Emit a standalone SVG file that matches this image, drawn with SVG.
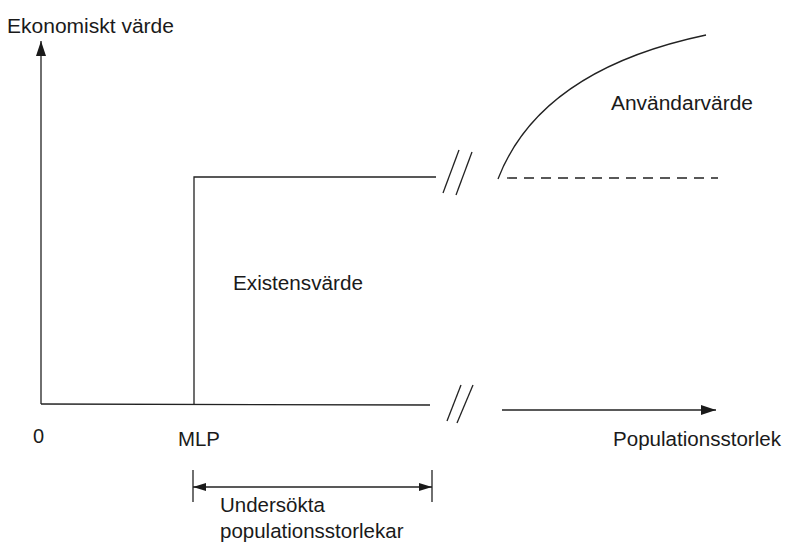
<svg xmlns="http://www.w3.org/2000/svg" width="790" height="545" viewBox="0 0 790 545">
<style>
.ln{fill:none;stroke:#222;stroke-width:1.3}
.t{font-family:"Liberation Sans",Arial,sans-serif;font-size:20px;fill:#1a1a1a}
.s{font-size:20.5px}
</style>
<defs>
<marker id="ah" markerWidth="16" markerHeight="12" refX="15" refY="6" orient="auto" markerUnits="userSpaceOnUse">
<path d="M0,1 L15,6 L0,11 Z" fill="#1a1a1a"/>
</marker>
<marker id="ahs" markerWidth="14" markerHeight="10" refX="13" refY="5" orient="auto-start-reverse" markerUnits="userSpaceOnUse">
<path d="M0,1 L13,5 L0,9 Z" fill="#1a1a1a"/>
</marker>
</defs>
<rect width="790" height="545" fill="#fff"/>
<g id="connectors">
<line class="ln" x1="41" y1="404" x2="41" y2="41" marker-end="url(#ah)"/>
<line class="ln" x1="41" y1="404" x2="430" y2="405"/>
<line class="ln" x1="502" y1="410" x2="716" y2="410" marker-end="url(#ah)"/>
<polyline class="ln" points="194,404 194,177 436,177"/>
<line class="ln" x1="443" y1="193" x2="459" y2="150"/>
<line class="ln" x1="456" y1="195" x2="472" y2="152"/>
<line class="ln" x1="447" y1="421" x2="461" y2="385"/>
<line class="ln" x1="457" y1="423" x2="473" y2="385"/>
<path class="ln" d="M498,179 Q540,70 706,35"/>
<line class="ln" x1="507" y1="178" x2="718" y2="178" stroke-dasharray="10,7"/>
<line class="ln" x1="193" y1="470" x2="193" y2="502"/>
<line class="ln" x1="432" y1="470" x2="432" y2="502"/>
<line class="ln" x1="193" y1="487" x2="432" y2="487" marker-start="url(#ahs)" marker-end="url(#ahs)"/>
</g>
<g id="labels">
<text class="t" x="7" y="33" textLength="167" lengthAdjust="spacingAndGlyphs">Ekonomiskt värde</text>
<text class="t" x="611" y="110" textLength="142" lengthAdjust="spacingAndGlyphs">Användarvärde</text>
<text class="t" x="233" y="290" textLength="130" lengthAdjust="spacingAndGlyphs">Existensvärde</text>
<text class="t" x="33" y="443">0</text>
<text class="t" x="178" y="446" textLength="42" lengthAdjust="spacingAndGlyphs">MLP</text>
<text class="t" x="613" y="446" textLength="168" lengthAdjust="spacingAndGlyphs">Populationsstorlek</text>
<text class="t s" x="220" y="512">Undersökta</text>
<text class="t s" x="220" y="538">populationsstorlekar</text>
</g>
</svg>
